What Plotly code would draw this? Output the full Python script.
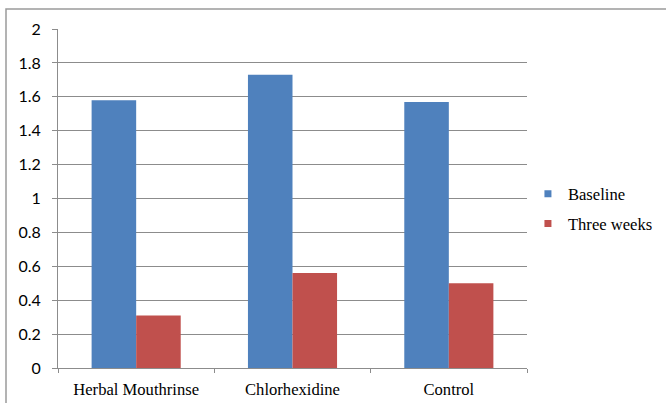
import plotly.graph_objects as go

# Mean scores by group at baseline and after three weeks
groups = ["Herbal Mouthrinse", "Chlorhexidine", "Control"]
baseline = [1.58, 1.73, 1.57]
three_weeks = [0.31, 0.56, 0.50]
y_ticks = [0, 0.2, 0.4, 0.6, 0.8, 1, 1.2, 1.4, 1.6, 1.8, 2]
y_tick_text = ["0", "0.2", "0.4", "0.6", "0.8", "1", "1.2", "1.4", "1.6", "1.8", "2"]

BLUE = "#4F81BD"
RED = "#C0504D"
GRID = "#8c8c8c"
SERIF = "Times New Roman"
SANS = "Lato"

fig = go.Figure()
fig.add_trace(go.Bar(x=groups, y=baseline, name="Baseline",
                     marker=dict(color=BLUE, line=dict(width=0)), showlegend=False))
fig.add_trace(go.Bar(x=groups, y=three_weeks, name="Three weeks",
                     marker=dict(color=RED, line=dict(width=0)), showlegend=False))

# Small square legend keys
for name, color in (("Baseline", BLUE), ("Three weeks", RED)):
    fig.add_trace(go.Scatter(x=[None], y=[None], mode="markers", name=name,
                             legendgroup=name,
                             marker=dict(symbol="square", size=7, color=color)))

# Outer chart frame
fig.add_shape(type="rect", xref="paper", yref="paper",
              x0=(6 - 58) / 469, x1=1.5, y0=-0.3, y1=(368 - 9) / 339,
              line=dict(color="#9a9a9a", width=1.5), fillcolor="rgba(0,0,0,0)",
              layer="below")

fig.update_layout(
    width=666, height=403,
    margin=dict(l=58, r=139, t=29, b=35, autoexpand=False),
    paper_bgcolor="white", plot_bgcolor="white",
    barmode="group", bargap=0.43, bargroupgap=0,
    legend=dict(x=1.002, y=0.469, xanchor="left", yanchor="middle",
                font=dict(family=SERIF, size=16.6, color="#000"),
                itemwidth=30, tracegroupgap=5, bgcolor="rgba(0,0,0,0)"),
    xaxis=dict(showline=True, linecolor=GRID, linewidth=1,
               ticks="outside", tickson="boundaries", ticklen=4, tickcolor=GRID,
               tickfont=dict(family=SERIF, size=16.6, color="#000"),
               showgrid=False, ticklabelstandoff=6),
    yaxis=dict(range=[0, 2], tickvals=y_ticks, ticktext=y_tick_text,
               showline=True, linecolor=GRID, linewidth=1,
               ticks="outside", ticklen=5, tickcolor=GRID,
               showgrid=True, gridcolor=GRID, gridwidth=1, zeroline=False,
               tickfont=dict(family=SANS, size=16, color="#000"),
               ticklabelstandoff=8),
)

fig.write_html("out.html")
